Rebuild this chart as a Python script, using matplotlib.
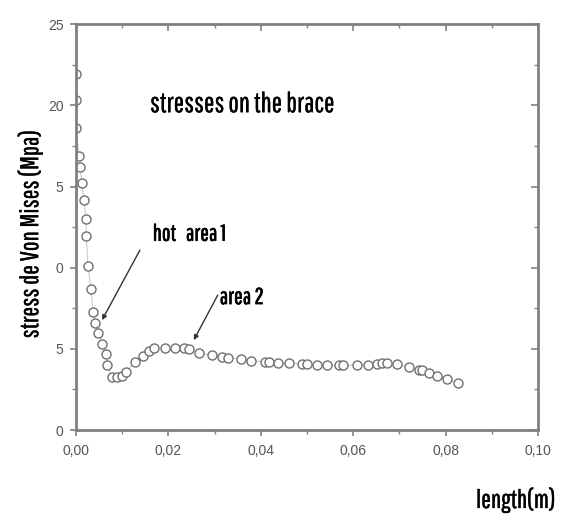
import matplotlib.pyplot as plt
import matplotlib.patheffects as pe
from matplotlib.ticker import FixedLocator, MultipleLocator

# length (m) and Von Mises stress (MPa)
length = [0.0, 0.0, 0.0,
          0.00065, 0.00086, 0.0013, 0.0017, 0.0022, 0.0022, 0.0026, 0.0032,
          0.0037, 0.0041, 0.0048, 0.0056, 0.0065, 0.0067, 0.0078, 0.0089,
          0.0099, 0.0108, 0.0127, 0.0145, 0.0158, 0.0168, 0.0192, 0.0214,
          0.0233, 0.0244, 0.0266, 0.0294, 0.0317, 0.0330, 0.0356, 0.0378,
          0.0410, 0.0417, 0.0438, 0.0462, 0.0490, 0.0499, 0.0521, 0.0544,
          0.0570, 0.0577, 0.0609, 0.0631, 0.0652, 0.0663, 0.0672, 0.0695,
          0.0721, 0.0743, 0.0749, 0.0765, 0.0782, 0.0803, 0.0827]
stress = [21.96, 20.32, 18.58,
          16.87, 16.2, 15.21, 14.16, 12.99, 11.95, 10.10, 8.68,
          7.27, 6.59, 5.97, 5.30, 4.68, 4.00, 3.26, 3.26,
          3.33, 3.57, 4.19, 4.56, 4.86, 5.05, 5.05, 5.05,
          5.05, 4.99, 4.74, 4.62, 4.50, 4.43, 4.37, 4.25,
          4.19, 4.19, 4.13, 4.13, 4.06, 4.06, 4.00, 4.00,
          4.00, 4.00, 4.00, 4.00, 4.06, 4.13, 4.13, 4.06,
          3.88, 3.69, 3.69, 3.51, 3.33, 3.14, 2.89]

xticks = [0.0, 0.02, 0.04, 0.06, 0.08, 0.10]
xticklabels = ['0,00', '0,02', '0,04', '0,06', '0,08', '0,10']
yticks = [0, 5, 10, 15, 20, 25]
yticklabels = ['0', '5', '0', '5', '20', '25']   # as printed on the original

narrow = ['Pathway Gothic One', 'PT Sans Narrow', 'DejaVu Sans']
tickfont = ['Liberation Sans', 'DejaVu Sans']
gray = '#808080'
light = [pe.withStroke(linewidth=0.2, foreground='black')]
heavy = [pe.withStroke(linewidth=0.45, foreground='black')]

fig = plt.figure(figsize=(5.64, 5.15), dpi=100)
ax = fig.add_axes([0.1348, 0.165, 0.8192, 0.788])

ax.plot(length, stress, '-', color='#cccccc', lw=0.8, zorder=1)
ax.plot(length, stress, 'o', ms=6.5, mfc='white', mec='#707070', mew=1.0, zorder=2)

ax.set_xlim(0, 0.10)
ax.set_ylim(0, 25)
ax.xaxis.set_major_locator(FixedLocator(xticks))
ax.set_xticklabels(xticklabels)
ax.yaxis.set_major_locator(FixedLocator(yticks))
ax.set_yticklabels(yticklabels)
ax.xaxis.set_minor_locator(MultipleLocator(0.01))
ax.yaxis.set_minor_locator(MultipleLocator(2.5))

for s in ax.spines.values():
    s.set_color(gray)
    s.set_linewidth(2)
ax.tick_params(which='major', direction='out', length=4, width=1.2, color=gray,
               labelsize=10, labelcolor='#555555')
ax.tick_params(axis='x', which='major', pad=6)
ax.tick_params(axis='y', which='major', pad=5)
ax.tick_params(which='minor', direction='out', length=3, width=1.0, color=gray)
for lab in ax.get_xticklabels() + ax.get_yticklabels():
    lab.set_family(tickfont)

# inward ticks on top and right
top = ax.secondary_xaxis('top')
top.xaxis.set_major_locator(FixedLocator(xticks))
top.xaxis.set_minor_locator(MultipleLocator(0.01))
top.tick_params(which='major', direction='in', length=5, width=1.2, color=gray, labeltop=False)
top.tick_params(which='minor', direction='in', length=3, width=1.0, color=gray)
top.spines['top'].set_visible(False)
right = ax.secondary_yaxis('right')
right.yaxis.set_major_locator(FixedLocator(yticks))
right.yaxis.set_minor_locator(MultipleLocator(2.5))
right.tick_params(which='major', direction='in', length=5, width=1.2, color=gray, labelright=False)
right.tick_params(which='minor', direction='in', length=3, width=1.0, color=gray)
right.spines['right'].set_visible(False)

ax.set_ylabel('stress de Von Mises (Mpa)', family=narrow, fontsize=18.5, va='center',
              path_effects=light)
ax.yaxis.set_label_coords(-0.10, 0.483)
fig.text(0.844, 0.0136, 'length(m)', family=narrow, fontsize=18.5, ha='left', va='baseline',
         path_effects=light)

ax.text(0.0160, 19.58, 'stresses on the brace', family=narrow, fontsize=20, va='baseline',
        path_effects=light)

ax.text(0.0166, 11.66, 'hot   area 1', family=narrow, fontsize=16.5, va='baseline',
        path_effects=heavy)
ax.annotate('', xy=(0.00562, 6.77), xytext=(0.01382, 11.08),
            arrowprops=dict(arrowstyle='-|>', color='#333333', lw=1,
                            shrinkA=0, shrinkB=0, mutation_scale=7))
ax.text(0.0311, 7.76, 'area 2', family=narrow, fontsize=16.5, va='baseline',
        path_effects=heavy)
ax.annotate('', xy=(0.02549, 5.54), xytext=(0.03067, 8.31),
            arrowprops=dict(arrowstyle='-|>', color='#333333', lw=1,
                            shrinkA=0, shrinkB=0, mutation_scale=7))

fig.savefig('out.png', dpi=100)
